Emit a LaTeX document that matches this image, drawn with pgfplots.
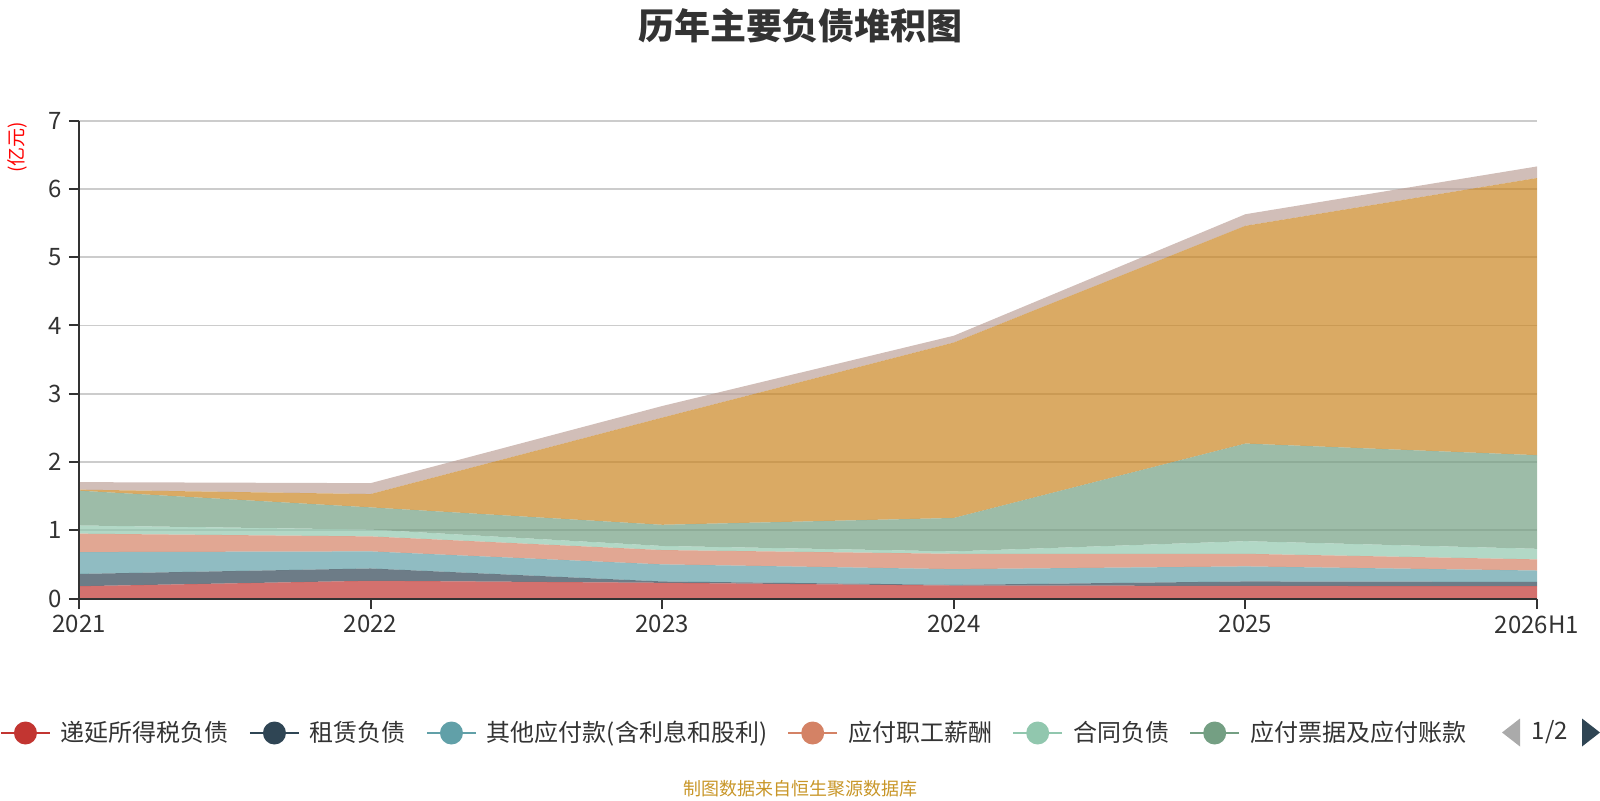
\documentclass[border=0pt]{standalone}
\usepackage{fontspec}
\setmainfont{Noto Sans CJK SC}
\usepackage{pgfplots}
\pgfplotsset{compat=1.18}
\definecolor{c1}{HTML}{C23531}
\definecolor{c2}{HTML}{2F4554}
\definecolor{c3}{HTML}{61A0A8}
\definecolor{c4}{HTML}{D48265}
\definecolor{c5}{HTML}{91C7AE}
\definecolor{c6}{HTML}{749F83}
\definecolor{c7}{HTML}{CA8622}
\definecolor{c8}{HTML}{BDA29A}
\definecolor{txt}{HTML}{333333}
\definecolor{gridc}{HTML}{CCCCCC}
\definecolor{pgray}{HTML}{AAAAAA}
\definecolor{src}{RGB}{200,150,40}
\pgfplotsset{
  layers/mylayers/.define layer set={axis background,axis grid,pre main,main,axis ticks,axis lines,axis tick labels,axis descriptions,axis foreground}{/pgfplots/layers/standard},
  leg/.style={legend image code/.code={%
    \draw[draw=#1,line width=1pt,draw opacity=1] (0pt,0pt)--(24.5pt,0pt);
    \fill[fill=#1,fill opacity=1] (12.25pt,0pt) circle (5.75pt);}},
  band/.style={fill=#1, fill opacity=0.7, draw=none, leg=#1},
}
\begin{document}
\begin{tikzpicture}
\begin{axis}[
  set layers=mylayers,
  at={(39.5pt,100.75pt)}, anchor=south west,
  scale only axis, width=729pt, height=238.9pt,
  xmin=0, xmax=5, ymin=0, ymax=7,
  xtick={0,...,5}, xticklabels={2021,2022,2023,2024,2025,2026H1},
  ytick={0,...,7},
  axis lines*=left,
  axis line style={txt, line width=1pt},
  tick align=outside, major tick length=5pt,
  tick style={txt, line width=1pt},
  ymajorgrids, major grid style={gridc, line width=0.8pt},
  ticklabel style={font=\fontsize{12}{14}\selectfont, text=txt},
  /pgf/number format/assume math mode=true,
  stack plots=y,
  legend columns=6,
  legend cell align=left,
  legend style={at={(-0.0542,-0.2815)}, anchor=west, draw=none, fill=none,
    inner sep=0pt, outer sep=0pt, column sep=0pt,
    font=\fontsize{12}{14}\selectfont, text=txt,
    nodes={inner sep=0pt},
    /tikz/every odd column/.append style={column sep=5pt},
    /tikz/every even column/.append style={column sep=10pt}},
]
\addplot[band=c1] coordinates {(0,0.18) (1,0.26) (2,0.23) (3,0.19) (4,0.185) (5,0.18)} \closedcycle;
\addplot[band=c2] coordinates {(0,0.18) (1,0.18) (2,0.02) (3,0.01) (4,0.065) (5,0.063)} \closedcycle;
\addplot[band=c3] coordinates {(0,0.32) (1,0.25) (2,0.25) (3,0.23) (4,0.22) (5,0.167)} \closedcycle;
\addplot[band=c4] coordinates {(0,0.27) (1,0.22) (2,0.21) (3,0.225) (4,0.185) (5,0.163)} \closedcycle;
\addplot[band=c5] coordinates {(0,0.12) (1,0.10) (2,0.06) (3,0.035) (4,0.185) (5,0.155)} \closedcycle;
\addplot[band=c6] coordinates {(0,0.51) (1,0.325) (2,0.31) (3,0.49) (4,1.43) (5,1.372)} \closedcycle;
\addplot[band=c7] coordinates {(0,0.015) (1,0.195) (2,1.57) (3,2.57) (4,3.19) (5,4.06)} \closedcycle;
\addplot[band=c8] coordinates {(0,0.11) (1,0.16) (2,0.17) (3,0.10) (4,0.17) (5,0.17)} \closedcycle;
\legend{递延所得税负债,租赁负债,其他应付款(含利息和股利),应付职工薪酬,合同负债,应付票据及应付账款}
\end{axis}
\node[font=\bfseries\fontsize{18}{20}\selectfont, text=txt] at (400pt,387.25pt) {历年主要负债堆积图};
\node[rotate=90, font=\fontsize{9.5}{10}\selectfont, text=red] at (8.5pt,326.5pt) {(亿元)};
\node[font=\fontsize{9}{10}\selectfont, text=src] at (400pt,5.5pt) {制图数据来自恒生聚源数据库};
\fill[pgray] (751pt,33.75pt) -- (760pt,40.75pt) -- (760pt,26.75pt) -- cycle;
\node[font=\fontsize{12}{14}\selectfont, text=txt] at (775pt,33.75pt) {1/2};
\fill[c2] (791pt,40.75pt) -- (800pt,33.75pt) -- (791pt,26.75pt) -- cycle;
\pgfresetboundingbox
\path[use as bounding box] (0,0) rectangle (800pt,400pt);
\end{tikzpicture}
\end{document}
